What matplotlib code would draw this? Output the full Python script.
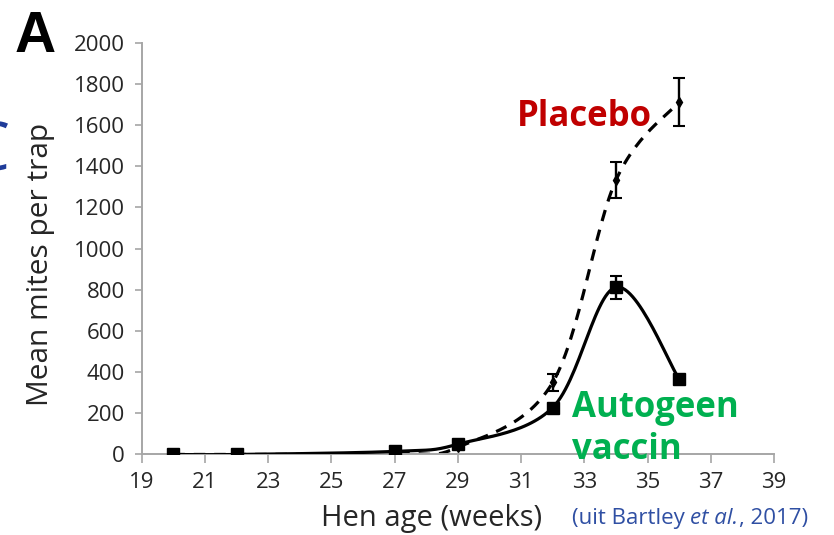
import numpy as np
import matplotlib
matplotlib.use('Agg')
import matplotlib.pyplot as plt

plt.rcParams.update({
    "font.family": ["Open Sans", "DejaVu Sans"],
    "axes.edgecolor": "#a6a6a6",
    "xtick.color": "#a6a6a6",
    "ytick.color": "#a6a6a6",
    "xtick.labelcolor": "#262626",
    "ytick.labelcolor": "#262626",
})

# data (Bartley et al., 2017)
weeks = [20, 22, 27, 29, 32, 34, 36]
vaccine = [0, 0, 15, 50, 228, 812, 366]
vaccine_err = [0, 0, 8, 10, 15, 57, 12]
placebo = [0, 0, 5, 35, 350, 1332, 1712]
placebo_err = [0, 0, 4, 8, 40, 88, 115]

xticks = list(range(19, 40, 2))
yticks = list(range(0, 2001, 200))


def smooth(xs, ys, xr=(19, 39), yr=(0, 2000), w=632, h=412, n=30):
    # Excel-style smoothed line: cubic Bezier through points in screen-like space
    px = (np.array(xs, float) - xr[0]) / (xr[1] - xr[0]) * w
    py = (np.array(ys, float) - yr[0]) / (yr[1] - yr[0]) * h
    P = np.column_stack([px, py])
    P = np.vstack([P[0], P, P[-1]])
    out = []
    t = np.linspace(0, 1, n)[:, None]
    for i in range(1, len(P) - 2):
        p0, p1, p2, p3 = P[i - 1], P[i], P[i + 1], P[i + 2]
        c1 = p1 + (p2 - p0) / 6
        c2 = p2 - (p3 - p1) / 6
        seg = ((1 - t) ** 3) * p1 + 3 * ((1 - t) ** 2) * t * c1 \
            + 3 * (1 - t) * t ** 2 * c2 + t ** 3 * p2
        out.append(seg if i == 1 else seg[1:])
    out = np.vstack(out)
    return (out[:, 0] / w * (xr[1] - xr[0]) + xr[0],
            out[:, 1] / h * (yr[1] - yr[0]) + yr[0])


fig = plt.figure(figsize=(8.34, 5.35), dpi=100)
ax = fig.add_axes([0.1699, 0.1505, 0.7582, 0.7699])

sx, sy = smooth(weeks, placebo)
ax.plot(sx, sy, color='black', lw=2.3, ls=(0, (3.6, 2.8)), zorder=2)
sx, sy = smooth(weeks, vaccine)
ax.plot(sx, sy, color='black', lw=2.3, zorder=3)

ax.errorbar(weeks, placebo, yerr=placebo_err, fmt='d', color='black',
            ms=5, elinewidth=1.7, capsize=4, capthick=1.5, zorder=4)
ax.errorbar(weeks, vaccine, yerr=vaccine_err, fmt='s', color='black',
            ms=8, elinewidth=1.7, capsize=4, capthick=1.5, zorder=5)

ax.set_xlim(19, 39)
ax.set_ylim(0, 2000)
ax.set_xticks(xticks)
ax.set_yticks(yticks)
ax.spines['top'].set_visible(False)
ax.spines['right'].set_visible(False)
ax.spines['left'].set_linewidth(1.4)
ax.spines['bottom'].set_linewidth(1.4)
ax.tick_params(axis='x', direction='out', length=6.5, width=1.2, pad=6, labelsize=16)
ax.tick_params(axis='y', direction='out', length=5, width=1.2, pad=7, labelsize=16)
for sp in ax.spines.values():
    sp.set_clip_on(False)

fig.text(432 / 834, 1 - 526 / 535, 'Hen age (weeks)', fontsize=21,
         ha='center', va='baseline', color='#262626')
fig.text(41 / 834, 1 - 264 / 535, 'Mean mites per trap', fontsize=21.5,
         rotation=90, ha='center', va='center', color='#262626')

fig.text(15 / 834, 1 - 52 / 535, 'A', fontsize=41, fontweight='bold',
         family='Liberation Sans', ha='left', va='baseline', color='black')
# edge of the neighbouring panel letter, cut off by the crop
fig.text(10 / 834, 1 - 152 / 535, 'C', fontsize=48, ha='right',
         va='center', color='#1f3c99')

fig.text(517 / 834, 1 - 126 / 535, 'Placebo', fontsize=25, fontweight='bold',
         ha='left', va='baseline', color='#c00000')
fig.text(572 / 834, 1 - 417 / 535, 'Autogeen', fontsize=25, fontweight='bold',
         ha='left', va='baseline', color='#00b050')
fig.text(572 / 834, 1 - 459 / 535, 'vaccin', fontsize=25, fontweight='bold',
         ha='left', va='baseline', color='#00b050')

# citation with italic "et al." built from consecutive pieces
renderer = fig.canvas.get_renderer()
x0 = 572
for piece, style in [('(uit Bartley ', 'normal'), ('et al.', 'italic'), (', 2017)', 'normal')]:
    t = fig.text(x0 / 834, 1 - 524 / 535, piece, fontsize=16, style=style,
                 ha='left', va='baseline', color='#2f4fa3')
    x0 += t.get_window_extent(renderer).width

fig.savefig('out.png', dpi=100)
